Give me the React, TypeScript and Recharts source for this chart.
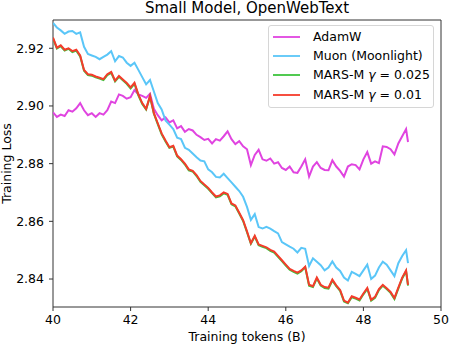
import React from "react";
import { Label, Legend, Line, LineChart, ReferenceArea, XAxis, YAxis } from "recharts";

const tokens = [
  40.0, 40.1, 40.2, 40.3, 40.4, 40.5, 40.6, 40.7, 40.8, 40.9,
  41.0, 41.1, 41.2, 41.3, 41.4, 41.5, 41.6, 41.7, 41.8, 41.9,
  42.0, 42.1, 42.2, 42.3, 42.4, 42.5, 42.6, 42.7, 42.8, 42.9,
  43.0, 43.1, 43.2, 43.3, 43.4, 43.5, 43.6, 43.7, 43.8, 43.9,
  44.0, 44.1, 44.2, 44.3, 44.4, 44.5, 44.6, 44.7, 44.8, 44.9,
  45.0, 45.1, 45.2, 45.3, 45.4, 45.5, 45.6, 45.7, 45.8, 45.9,
  46.0, 46.1, 46.2, 46.3, 46.4, 46.5, 46.6, 46.7, 46.8, 46.9,
  47.0, 47.1, 47.2, 47.3, 47.4, 47.5, 47.6, 47.7, 47.8, 47.9,
  48.0, 48.1, 48.2, 48.3, 48.4, 48.5, 48.6, 48.7, 48.8, 48.9,
  49.0, 49.1, 49.15,
];

const adamw = [
  2.8978, 2.8962, 2.8970, 2.8965, 2.8985, 2.8980, 2.8992, 2.9010, 2.8985, 2.8968,
  2.8975, 2.8962, 2.8975, 2.8970, 2.8985, 2.9015, 2.9010, 2.9040, 2.9035, 2.9025,
  2.9030, 2.9055, 2.9040, 2.9035, 2.9028, 2.9042, 2.8990, 2.8968, 2.8950, 2.8960,
  2.8943, 2.8950, 2.8922, 2.8930, 2.8910, 2.8920, 2.8915, 2.8900, 2.8892, 2.8882,
  2.8886, 2.8870, 2.8885, 2.8880, 2.8895, 2.8912, 2.8885, 2.8868, 2.8878, 2.8860,
  2.8850, 2.8795, 2.8830, 2.8848, 2.8815, 2.8810, 2.8818, 2.8800, 2.8805, 2.8785,
  2.8778, 2.8790, 2.8770, 2.8768, 2.8790, 2.8815, 2.8755, 2.8790, 2.8805, 2.8785,
  2.8778, 2.8777, 2.8811, 2.8790, 2.8775, 2.8755, 2.8790, 2.8798, 2.8795, 2.8780,
  2.8815, 2.8840, 2.8800, 2.8808, 2.8802, 2.8860, 2.8858, 2.8850, 2.8832, 2.8870,
  2.8895, 2.8920, 2.8875,
];

const muon = [
  2.9288, 2.9272, 2.9262, 2.9250, 2.9258, 2.9260, 2.9250, 2.9255, 2.9205, 2.9180,
  2.9175, 2.9170, 2.9162, 2.9170, 2.9178, 2.9190, 2.9155, 2.9173, 2.9168, 2.9150,
  2.9139, 2.9150, 2.9125, 2.9100, 2.9075, 2.9090, 2.9050, 2.9010, 2.8988, 2.8950,
  2.8935, 2.8920, 2.8890, 2.8885, 2.8855, 2.8848, 2.8835, 2.8822, 2.8811, 2.8808,
  2.8780, 2.8770, 2.8754, 2.8752, 2.8765, 2.8750, 2.8735, 2.8720, 2.8705, 2.8685,
  2.8650, 2.8605, 2.8625, 2.8580, 2.8575, 2.8581, 2.8575, 2.8566, 2.8558, 2.8528,
  2.8520, 2.8512, 2.8505, 2.8492, 2.8508, 2.8505, 2.8445, 2.8472, 2.8460, 2.8448,
  2.8430, 2.8440, 2.8461, 2.8440, 2.8428, 2.8405, 2.8395, 2.8425, 2.8418, 2.8410,
  2.8430, 2.8450, 2.8400, 2.8412, 2.8440, 2.8460, 2.8450, 2.8430, 2.8410, 2.8455,
  2.8480, 2.8500, 2.8455,
];

const marsM025 = [
  2.9234, 2.9199, 2.9207, 2.9192, 2.9198, 2.9187, 2.9192, 2.9172, 2.9122, 2.9107,
  2.9105, 2.9099, 2.9095, 2.9090, 2.9107, 2.9115, 2.9085, 2.9101, 2.9089, 2.9077,
  2.9061, 2.9077, 2.9037, 2.9007, 2.8988, 2.9032, 2.8973, 2.8937, 2.8902, 2.8877,
  2.8855, 2.8859, 2.8825, 2.8813, 2.8797, 2.8777, 2.8773, 2.8757, 2.8737, 2.8725,
  2.8713, 2.8698, 2.8683, 2.8687, 2.8697, 2.8692, 2.8659, 2.8652, 2.8627, 2.8601,
  2.8562, 2.8522, 2.8547, 2.8517, 2.8512, 2.8507, 2.8498, 2.8492, 2.8477, 2.8462,
  2.8447, 2.8432, 2.8425, 2.8419, 2.8427, 2.8441, 2.8377, 2.8372, 2.8402, 2.8377,
  2.8369, 2.8367, 2.8395, 2.8375, 2.8359, 2.8322, 2.8316, 2.8337, 2.8332, 2.8326,
  2.8347, 2.8366, 2.8325, 2.8335, 2.8362, 2.8377, 2.8365, 2.8352, 2.8331, 2.8367,
  2.8402, 2.8427, 2.8377,
];

const marsM01 = [
  2.9237, 2.9202, 2.9210, 2.9195, 2.9200, 2.9190, 2.9195, 2.9175, 2.9125, 2.9110,
  2.9108, 2.9102, 2.9098, 2.9093, 2.9110, 2.9118, 2.9088, 2.9104, 2.9092, 2.9080,
  2.9064, 2.9080, 2.9040, 2.9010, 2.8990, 2.9035, 2.8975, 2.8940, 2.8905, 2.8880,
  2.8857, 2.8862, 2.8828, 2.8815, 2.8800, 2.8780, 2.8775, 2.8760, 2.8740, 2.8728,
  2.8716, 2.8700, 2.8686, 2.8690, 2.8700, 2.8695, 2.8662, 2.8655, 2.8630, 2.8604,
  2.8565, 2.8524, 2.8550, 2.8520, 2.8515, 2.8510, 2.8501, 2.8495, 2.8480, 2.8465,
  2.8450, 2.8435, 2.8428, 2.8422, 2.8430, 2.8443, 2.8380, 2.8375, 2.8405, 2.8380,
  2.8372, 2.8370, 2.8398, 2.8378, 2.8362, 2.8325, 2.8318, 2.8340, 2.8335, 2.8329,
  2.8350, 2.8369, 2.8328, 2.8338, 2.8365, 2.8380, 2.8368, 2.8355, 2.8334, 2.8370,
  2.8405, 2.8430, 2.8380,
];

const seriesNames = ["AdamW", "Muon (Moonlight)", "MARS-M γ = 0.025", "MARS-M γ = 0.01"];
const xTicks = [40, 42, 44, 46, 48, 50];
const yTicks = [2.84, 2.86, 2.88, 2.9, 2.92];
const yMin = 2.8303;
const yMax = 2.9298;

const data = tokens.map((t, i) => ({
  tokens: t,
  adamw: adamw[i],
  muon: muon[i],
  mars025: marsM025[i],
  mars01: marsM01[i],
}));

const font = "'DejaVu Sans', sans-serif";

function LegendLabel({ text }: { text: string }) {
  const parts = text.split("γ");
  if (parts.length === 1) return <span>{text}</span>;
  return (
    <span>
      {parts[0]}
      <i>γ</i>
      {parts[1]}
    </span>
  );
}

function renderLegend(props: any) {
  const items = [...(props.payload || [])].sort(
    (a: any, b: any) => seriesNames.indexOf(a.value) - seriesNames.indexOf(b.value)
  );
  return (
    <div
      style={{
        border: "1px solid #d6d6d6",
        borderRadius: 3,
        background: "rgba(255,255,255,0.85)",
        width: 164,
        height: 80,
        boxSizing: "content-box",
        fontFamily: font,
        fontSize: 12.5,
        color: "#000",
        paddingTop: 1,
      }}
    >
      {items.map((p: any) => (
        <div key={p.value} style={{ height: 19.4, display: "flex", alignItems: "center" }}>
          <svg width={40} height={4} style={{ marginLeft: 4, flex: "none" }}>
            <line x1={0} y1={2} x2={27} y2={2} stroke={p.color} strokeWidth={1.8} />
          </svg>
          <span style={{ whiteSpace: "nowrap", lineHeight: "14px" }}>
            <LegendLabel text={p.value} />
          </span>
        </div>
      ))}
    </div>
  );
}

export default function App() {
  return (
    <div style={{ position: "absolute", left: 0, top: 0, width: 449, height: 346, background: "#fff" }}>
      <div
        style={{
          position: "absolute",
          left: 53,
          width: 388,
          top: 1,
          textAlign: "center",
          fontFamily: font,
          fontSize: 15,
          lineHeight: "15px",
          color: "#000",
        }}
      >
        Small Model, OpenWebText
      </div>
      <LineChart width={449} height={346} data={data} margin={{ top: 20, right: 8, bottom: 0, left: 0 }}>
        <XAxis
          dataKey="tokens"
          type="number"
          domain={[40, 50]}
          ticks={xTicks}
          allowDataOverflow
          height={39}
          tickSize={4}
          tickMargin={4}
          axisLine={false}
          tickLine={{ stroke: "#333" }}
          tick={{ fill: "#000", fontSize: 12.5, fontFamily: font }}
        >
          <Label
            value="Training tokens (B)"
            position="insideBottom"
            offset={5}
            style={{ fill: "#000", fontSize: 12.5, fontFamily: font }}
          />
        </XAxis>
        <YAxis
          type="number"
          domain={[yMin, yMax]}
          ticks={yTicks}
          allowDataOverflow
          width={53}
          tickSize={4}
          tickMargin={5}
          axisLine={false}
          tickLine={{ stroke: "#333" }}
          tickFormatter={(v: number) => v.toFixed(2)}
          tick={{ fill: "#000", fontSize: 12.5, fontFamily: font }}
        >
          <Label
            content={() => (
              <text
                x={11}
                y={163.5}
                transform="rotate(-90 11 163.5)"
                textAnchor="middle"
                fill="#000"
                fontSize={12.5}
                fontFamily={font}
              >
                Training Loss
              </text>
            )}
          />
        </YAxis>
        <Line
          dataKey="adamw"
          name={seriesNames[0]}
          stroke="#e044e0"
          strokeWidth={2}
          dot={false}
          isAnimationActive={false}
        />
        <Line
          dataKey="muon"
          name={seriesNames[1]}
          stroke="#5ac6f8"
          strokeWidth={2}
          dot={false}
          isAnimationActive={false}
        />
        <Line
          dataKey="mars025"
          name={seriesNames[2]}
          stroke="#3ec43e"
          strokeWidth={2}
          dot={false}
          isAnimationActive={false}
        />
        <Line
          dataKey="mars01"
          name={seriesNames[3]}
          stroke="#f53b2b"
          strokeWidth={2}
          dot={false}
          isAnimationActive={false}
        />
        <ReferenceArea x1={40} x2={50} y1={yMin} y2={yMax} fill="none" stroke="#333" strokeWidth={1} />
        <Legend
          layout="vertical"
          align="center"
          verticalAlign="middle"
          wrapperStyle={{ left: 268, top: 25, width: 166, height: 82 }}
          content={renderLegend}
        />
      </LineChart>
    </div>
  );
}
